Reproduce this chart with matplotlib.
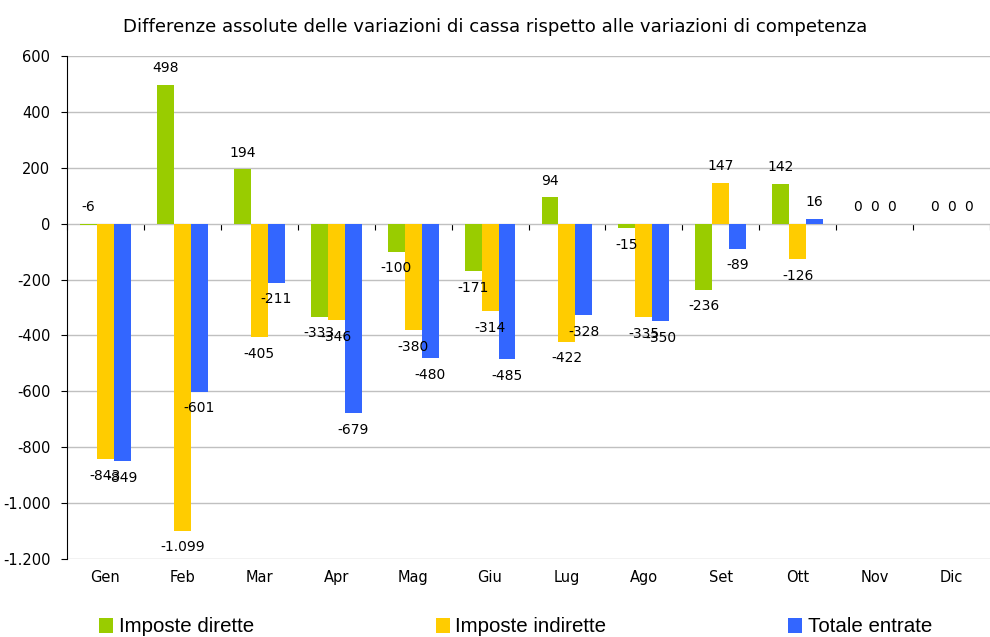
import matplotlib.pyplot as plt
import matplotlib.ticker as mticker
import numpy as np

plt.rcParams['font.family'] = ['DejaVu Sans']

# months and the three series (differences, cassa vs competenza)
mesi = ['Gen', 'Feb', 'Mar', 'Apr', 'Mag', 'Giu', 'Lug', 'Ago', 'Set', 'Ott', 'Nov', 'Dic']
dirette = [-6, 498, 194, -333, -100, -171, 94, -15, -236, 142, 0, 0]
indirette = [-843, -1099, -405, -346, -380, -314, -422, -335, 147, -126, 0, 0]
totale = [-849, -601, -211, -679, -480, -485, -328, -350, -89, 16, 0, 0]

serie = [('Imposte dirette', dirette, '#99CC00'),
         ('Imposte indirette', indirette, '#FFCC00'),
         ('Totale entrate', totale, '#3366FF')]


def fmt_it(v):
    # italian thousands separator
    return '{:,.0f}'.format(v).replace(',', '.')


fig = plt.figure(figsize=(9.9, 6.37), dpi=100)
ax = fig.add_axes([67 / 990, 78 / 637, 923 / 990, 503 / 637])

x = np.arange(len(mesi))
w = 0.22
for i, (nome, vals, col) in enumerate(serie):
    pos = x + (i - 1) * w
    ax.bar(pos, vals, width=w, color=col, label=nome, zorder=3)
    for px, v in zip(pos, vals):
        # tiny bars get their label above the axis, like the original
        if v > -10:
            ax.annotate(fmt_it(v), (px, max(v, 0)), xytext=(0, 7), textcoords='offset points',
                        ha='center', va='bottom', fontsize=10, zorder=5)
        else:
            ax.annotate(fmt_it(v), (px, v), xytext=(0, -7), textcoords='offset points',
                        ha='center', va='top', fontsize=10, zorder=5)

ax.set_xlim(-0.5, len(mesi) - 0.5)
ax.set_ylim(-1200, 600)
ax.set_yticks(np.arange(-1200, 601, 200))
ax.yaxis.set_major_formatter(mticker.FuncFormatter(lambda v, p: fmt_it(v)))
ax.grid(axis='y', color='#C0C0C0', linewidth=1, zorder=0)
ax.tick_params(axis='y', direction='out', length=4, labelsize=10.5, pad=8)

ax.set_xticks(x)
ax.set_xticklabels(mesi)
ax.tick_params(axis='x', length=0, labelsize=10.5, pad=8)

for s in ['top', 'right', 'bottom']:
    ax.spines[s].set_visible(False)
ax.spines['left'].set_color('black')

# category axis crossing at zero
sec = ax.secondary_xaxis(1200 / 1800)
sec.set_xticks(np.arange(len(mesi) + 1) - 0.5)
sec.set_xticklabels([])
sec.tick_params(direction='out', length=4, color='black')
sec.spines['bottom'].set_color('black')
sec.spines['bottom'].set_linewidth(1.2)
sec.spines['top'].set_visible(False)
sec.xaxis.set_ticks_position('bottom')

fig.text(0.5, 1 - 27 / 637, 'Differenze assolute delle variazioni di cassa rispetto alle variazioni di competenza',
         ha='center', va='center', fontsize=13.1)

fig.legend(loc='center left', bbox_to_anchor=(99 / 990, 1 - 627 / 637), ncol=3, frameon=False,
           prop={'family': 'Liberation Sans', 'size': 14.8},
           handlelength=0.7, handleheight=0.7, handletextpad=0.25,
           columnspacing=8.85, borderaxespad=0, borderpad=0)

fig.savefig('out.png', dpi=100)
